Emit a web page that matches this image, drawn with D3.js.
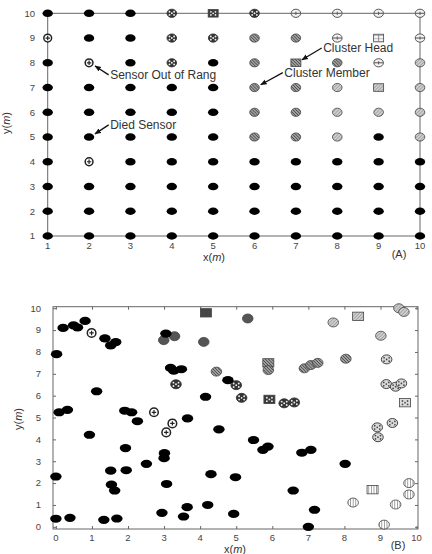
<!DOCTYPE html>
<html>
<head>
<meta charset="utf-8">
<script src="https://cdn.jsdelivr.net/npm/d3@7"></script>
<style>
  body { margin: 0; background: #fff; }
  svg text { font-family: "Liberation Sans", Arial, sans-serif; }
</style>
</head>
<body>
<div id="fix"></div>
<script>
// ---- panel A : 10x10 grid, one string per row (y = 10 down to 1)
// '.' died sensor, 'o' out of range, a-d cluster members, A-D cluster heads
var gridRows = [
  "...aAacccc",
  "o..aabbcCc",
  ".o.a.bBbcd",
  ".....bbdDd",
  ".....bbddd",
  ".....bbd.d",
  ".o........",
  "..........",
  "..........",
  ".........."
];
var gridYs = [10, 9, 8, 7, 6, 5, 4, 3, 2, 1];
var ticksA = [1, 2, 3, 4, 5, 6, 7, 8, 9, 10];

var notes = [
  { text: "Sensor Out of Rang", tx: 2.51, ty: 7.51, px: 2, py: 8 },
  { text: "Died Sensor", tx: 2.51, ty: 5.49, px: 2, py: 5 },
  { text: "Cluster Head", tx: 7.66, ty: 8.6, px: 7, py: 8 },
  { text: "Cluster Member", tx: 6.72, ty: 7.6, px: 6, py: 7 }
];

// ---- panel B : random deployment
var ticksB = [0, 1, 2, 3, 4, 5, 6, 7, 8, 9, 10];
var deadB = [[0.02,7.9],[0.2,9.1],[0.09,5.24],[0.32,5.35],[0.49,9.22],[0.6,9.12],[0.81,9.42],
  [1.36,8.62],[1.52,8.3],[1.66,8.45],[1.13,6.2],[1.91,5.31],[2.1,5.24],[2.26,4.83],[3.05,8.84],
  [3.18,7.27],[3.27,7.14],[3.48,7.21],[3.65,4.96],[4.15,5.95],[0,2.3],[0,0.37],[0.39,0.41],
  [0.93,4.21],[1.33,0.32],[1.69,0.38],[1.52,2.57],[1.54,1.93],[1.63,1.66],[1.93,3.6],[1.95,2.59],
  [2.51,2.88],[2.94,0.64],[3.01,3.37],[3.0,3.14],[3.07,1.96],[3.54,0.47],[3.64,0.9],[4.21,1.0],
  [4.3,2.41],[4.52,4.46],[5.48,3.97],[5.74,3.52],[5.88,3.67],[6.82,3.39],[7.07,3.52],[8.02,2.88],
  [4.98,2.27],[6.58,1.66],[4.93,0.59],[7.17,0.78],[7.0,0.0],[4.77,6.71]];
var outB = [[0.99,8.87],[2.72,5.24],[3.23,4.73],[3.06,4.32]];
var clusterKeys = ["e", "b", "a", "d", "f", "g"];
var clusterHeads = [[4.16,9.79],[5.89,7.5],[5.92,5.83],[8.38,9.63],[9.68,5.68],[8.78,1.7]];
var clusterMembers = [
  [[2.99,8.54],[3.29,8.72],[4.1,8.46],[5.32,9.53]],
  [[4.45,7.1],[5.89,7.17],[6.89,7.25],[7.07,7.4],[7.26,7.5],[8.04,7.69]],
  [[3.33,6.52],[5.0,6.48],[5.15,5.9],[6.33,5.65],[6.61,5.69]],
  [[7.69,9.35],[9.51,10.0],[9.65,9.83],[9.01,8.74]],
  [[9.17,7.66],[9.16,6.53],[9.42,6.41],[9.58,6.56],[8.91,4.55],[9.33,4.75],[8.93,4.1]],
  [[8.24,1.11],[9.79,2.0],[9.79,1.48],[9.42,1.02],[9.1,0.1]]
];

var svg = d3.select("#fix").append("svg")
  .attr("width", 432).attr("height", 554);
svg.append("rect").attr("width", 432).attr("height", 554).attr("fill", "#fff");

var defs = svg.append("defs");

function linePattern(id, bg, fg, gap, w, angle) {
  var p = defs.append("pattern").attr("id", id)
    .attr("patternUnits", "userSpaceOnUse")
    .attr("width", gap).attr("height", gap)
    .attr("patternTransform", "rotate(" + angle + ")");
  p.append("rect").attr("width", gap).attr("height", gap).attr("fill", bg);
  p.append("line").attr("x1", 0).attr("y1", 0).attr("x2", gap).attr("y2", 0)
    .attr("stroke", fg).attr("stroke-width", w);
}
linePattern("pb", "#a0a0a0", "#2e2e2e", 2.2, 1.1, 45);
linePattern("pc", "#f4f4f4", "#777", 3.2, 0.9, 0);
linePattern("pd", "#cfcfcf", "#7a7a7a", 2.4, 0.9, -45);
linePattern("pg", "#ffffff", "#444", 2.6, 1, 90);

var fills = { b: "url(#pb)", d: "url(#pd)", e: "#555", g: "url(#pg)" };
var headFills = { a: "#3a3a3a", b: "url(#pb)", c: "url(#pc)", d: "url(#pd)",
                  e: "#474747", f: "#dcdcdc", g: "url(#pg)" };

defs.append("marker").attr("id", "arr")
  .attr("viewBox", "0 0 10 10").attr("refX", 9).attr("refY", 5)
  .attr("markerWidth", 5).attr("markerHeight", 5).attr("orient", "auto")
  .append("path").attr("d", "M0,1 L10,5 L0,9 Z").attr("fill", "#111");

// soccer-ball like spots for the dotted clusters
var spots = [[0, 0], [-2.3, -1.5], [2.3, -1.5], [-2.3, 1.6], [2.3, 1.6]];

// draw a single sensor
function drawNode(g, x, y, kind, big) {
  var s = big ? 1.1 : 1;
  if (kind == ".") {
    g.append("ellipse").attr("cx", x).attr("cy", y)
      .attr("rx", 5.2 * s).attr("ry", 3.7 * s).attr("fill", "#000");
  } else if (kind == "o") {
    g.append("circle").attr("cx", x).attr("cy", y).attr("r", 3.9 * s)
      .attr("fill", "#fff").attr("stroke", "#222").attr("stroke-width", 1.5);
    g.append("path")
      .attr("d", "M" + (x - 2.2) + "," + y + "h4.4M" + x + "," + (y - 2.2) + "v4.4")
      .attr("stroke", "#222").attr("stroke-width", 1.2);
  } else if (kind == kind.toUpperCase()) {
    var k = kind.toLowerCase();
    g.append("rect").attr("x", x - 5 * s).attr("y", y - 3.8 * s)
      .attr("width", 10 * s).attr("height", 7.6 * s)
      .attr("fill", headFills[k]).attr("stroke", "#444").attr("stroke-width", 0.8);
    if (k == "a" || k == "f") {
      spots.forEach(function(d) {
        g.append("circle").attr("cx", x + d[0] * s).attr("cy", y + d[1] * s).attr("r", 0.9)
          .attr("fill", k == "a" ? "#eee" : "#555");
      });
    }
    if (k == "c") {
      g.append("line").attr("x1", x).attr("x2", x).attr("y1", y - 3.8 * s).attr("y2", y + 3.8 * s)
        .attr("stroke", "#777").attr("stroke-width", 0.8);
    }
  } else if (kind == "a" || kind == "f") {
    g.append("ellipse").attr("cx", x).attr("cy", y)
      .attr("rx", 4.8 * s).attr("ry", 4.1 * s)
      .attr("fill", kind == "a" ? "#333" : "#d8d8d8")
      .attr("stroke", "#333").attr("stroke-width", 0.9);
    spots.forEach(function(d) {
      g.append("circle").attr("cx", x + d[0] * s).attr("cy", y + d[1] * s)
        .attr("r", kind == "a" ? 0.95 : 0.85)
        .attr("fill", kind == "a" ? "#eee" : "#444");
    });
  } else if (kind == "c") {
    g.append("ellipse").attr("cx", x).attr("cy", y)
      .attr("rx", 4.8 * s).attr("ry", 4.1 * s)
      .attr("fill", "#f2f2f2").attr("stroke", "#555").attr("stroke-width", 1);
    g.append("path")
      .attr("d", "M" + (x - 4.6) + "," + y + "h9.2M" + x + "," + (y - 1.6) + "v3.2")
      .attr("stroke", "#555").attr("stroke-width", 1);
  } else {
    g.append("ellipse").attr("cx", x).attr("cy", y)
      .attr("rx", 4.8 * s).attr("ry", 4.1 * s)
      .attr("fill", fills[kind]).attr("stroke", "#444").attr("stroke-width", 0.8);
  }
}

//**************************************************************

function panelA() {
  var x = d3.scaleLinear().domain([1, 10]).range([47.7, 420]);
  var y = d3.scaleLinear().domain([1, 10]).range([236, 13.3]);
  var g = svg.append("g");

  g.append("rect").attr("x", x(1)).attr("y", y(10))
    .attr("width", x(10) - x(1)).attr("height", y(1) - y(10))
    .attr("fill", "none").attr("stroke", "#666").attr("stroke-width", 1);

  g.selectAll(".xt").data(ticksA).enter().append("text")
    .attr("x", d => x(d)).attr("y", 248.5)
    .attr("text-anchor", "middle").attr("font-size", 9.5).attr("fill", "#444")
    .text(d => d);
  g.selectAll(".yt").data(ticksA).enter().append("text")
    .attr("x", 35).attr("y", d => y(d) + 3.4)
    .attr("text-anchor", "end").attr("font-size", 9.5).attr("fill", "#444")
    .text(d => d);

  var xl = g.append("text").attr("x", 214).attr("y", 261)
    .attr("text-anchor", "middle").attr("font-size", 11).attr("fill", "#333");
  xl.append("tspan").text("x(");
  xl.append("tspan").attr("font-style", "italic").text("m");
  xl.append("tspan").text(")");
  var yl = g.append("text").attr("transform", "translate(10,123) rotate(-90)")
    .attr("text-anchor", "middle").attr("font-size", 11).attr("fill", "#333");
  yl.append("tspan").text("y(");
  yl.append("tspan").attr("font-style", "italic").text("m");
  yl.append("tspan").text(")");
  g.append("text").attr("x", 399).attr("y", 258).attr("text-anchor", "middle")
    .attr("font-size", 11).attr("fill", "#333").text("(A)");

  gridRows.forEach(function(row, r) {
    row.split("").forEach(function(c, i) {
      drawNode(g, x(i + 1), y(gridYs[r]), c, false);
    });
  });

  notes.forEach(function(n) {
    var sx = x(n.tx) - 1.5, sy = y(n.ty);
    var mx = x(n.px), my = y(n.py);
    var dx = sx - mx, dy = sy - my, len = Math.sqrt(dx * dx + dy * dy);
    g.append("line").attr("x1", sx).attr("y1", sy)
      .attr("x2", mx + dx / len * 7).attr("y2", my + dy / len * 6)
      .attr("stroke", "#111").attr("stroke-width", 1.3)
      .attr("marker-end", "url(#arr)");
    g.append("text").attr("x", x(n.tx)).attr("y", y(n.ty) + 4.2)
      .attr("font-size", 12).attr("fill", "#333").text(n.text);
  });
}

//**************************************************************

function panelB() {
  var x = d3.scaleLinear().domain([-0.08, 10.04]).range([53, 418]);
  var y = d3.scaleLinear().domain([-0.1, 10.07]).range([529, 306.7]);
  var g = svg.append("g");

  g.append("rect").attr("x", 53).attr("y", 306.7)
    .attr("width", 365).attr("height", 222.3)
    .attr("fill", "none").attr("stroke", "#666").attr("stroke-width", 1);

  // inward ticks on all four sides
  g.append("g").attr("transform", "translate(0,529)")
    .call(d3.axisTop(x).tickValues(ticksB).tickSize(3).tickFormat(""));
  g.append("g").attr("transform", "translate(0,306.7)")
    .call(d3.axisBottom(x).tickValues(ticksB).tickSize(3).tickFormat(""));
  g.append("g").attr("transform", "translate(53,0)")
    .call(d3.axisRight(y).tickValues(ticksB).tickSize(3).tickFormat(""));
  g.append("g").attr("transform", "translate(418,0)")
    .call(d3.axisLeft(y).tickValues(ticksB).tickSize(3).tickFormat(""));
  g.selectAll(".domain").remove();
  g.selectAll(".tick line").attr("stroke", "#666");

  g.selectAll(".xt").data(ticksB).enter().append("text")
    .attr("x", d => x(d)).attr("y", 540.5)
    .attr("text-anchor", "middle").attr("font-size", 9.5)
    .attr("fill", d => d == 10 ? "#7a3434" : "#444")
    .text(d => d);
  g.selectAll(".yt").data(ticksB).enter().append("text")
    .attr("x", 41).attr("y", d => y(d) + 3.4)
    .attr("text-anchor", "end").attr("font-size", 9.5)
    .attr("fill", d => d == 0 ? "#7a3434" : "#444")
    .text(d => d);

  var xl = g.append("text").attr("x", 235).attr("y", 553)
    .attr("text-anchor", "middle").attr("font-size", 11).attr("fill", "#333");
  xl.append("tspan").text("x(");
  xl.append("tspan").attr("font-style", "italic").text("m");
  xl.append("tspan").text(")");
  var yl = g.append("text").attr("transform", "translate(22,419) rotate(-90)")
    .attr("text-anchor", "middle").attr("font-size", 11).attr("fill", "#333");
  yl.append("tspan").text("y(");
  yl.append("tspan").attr("font-style", "italic").text("m");
  yl.append("tspan").text(")");
  g.append("text").attr("x", 398).attr("y", 548.5).attr("text-anchor", "middle")
    .attr("font-size", 11).attr("fill", "#333").text("(B)");

  clusterKeys.forEach(function(k, i) {
    var h = clusterHeads[i];
    drawNode(g, x(h[0]), y(h[1]), k.toUpperCase(), true);
    clusterMembers[i].forEach(function(p) {
      drawNode(g, x(p[0]), y(p[1]), k, true);
    });
  });
  outB.forEach(p => drawNode(g, x(p[0]), y(p[1]), "o", true));
  deadB.forEach(p => drawNode(g, x(p[0]), y(p[1]), ".", true));
}

panelA();
panelB();
</script>
</body>
</html>
